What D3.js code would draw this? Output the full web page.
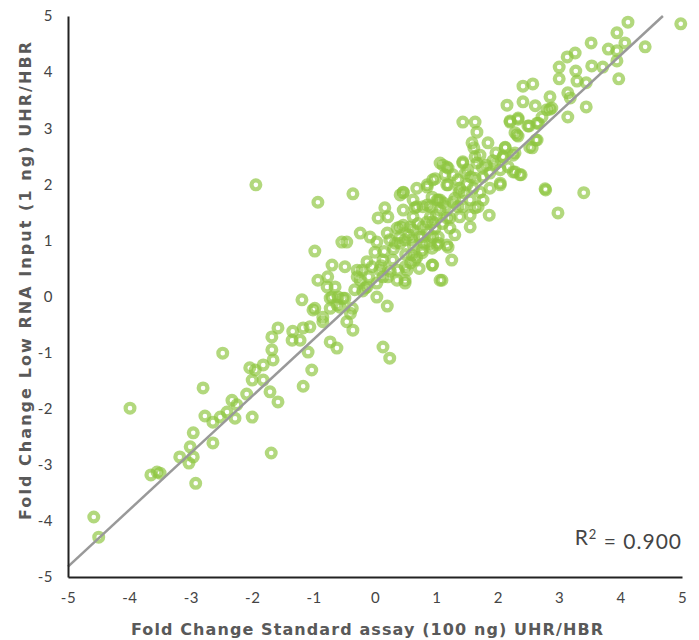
<!DOCTYPE html>
<html>
<head>
<meta charset="utf-8">
<script src="https://cdn.jsdelivr.net/npm/d3@7"></script>
<style>
  body { margin: 0; background: #fff; }
</style>
</head>
<body>
<script>
// fold change values, standard assay (x) vs low input (y)
const xVals = [
  -4.58,-4.50,-3.99,-3.65,-3.55,-3.50,-3.18,-2.96,-3.03,-2.92,-3.01,-2.96,-2.80,-2.64,-2.77,-2.64,-2.52,-2.33,-2.28,-2.41,
  -2.25,-2.09,-2.00,-2.00,-2.04,-1.95,-1.82,-1.82,-1.71,-1.58,-1.68,-1.66,-1.58,-1.68,-1.34,-1.35,-1.17,-1.06,-1.22,-1.17,
  -1.03,-1.09,-2.48,-1.69,-1.94,
  -0.85,-0.73,-0.62,-1.19,-1.01,-0.85,-0.73,-0.62,-0.46,-0.36,-0.93,-0.36,-0.98,-0.54,-0.46,-0.24,-0.08,-0.70,-0.49,-0.93,
  -0.77,-0.78,-0.65,-0.98,-0.57,-0.60,-0.49,-0.37,-0.24,-0.29,-0.13,0.00,0.03,0.16,0.21,0.05,0.41,0.46,0.20,0.36,
  0.24,0.41,0.13,0.29,0.49,0.13,0.36,0.03,-0.13,0.03,0.20,0.49,0.68,0.62,0.77,0.94,1.09,1.25,1.19,1.01,
  1.03,1.22,0.85,0.62,0.68,0.85,0.98,1.17,1.27,1.01,1.11,-0.29,-0.05,-0.21,-0.70,-0.33,0.08,0.13,0.24,-0.16,
  -0.52,-0.73,
  0.21,0.49,0.60,0.77,0.60,0.77,0.93,0.93,1.06,0.46,0.62,0.78,0.94,1.17,1.38,1.55,1.03,0.52,0.65,0.37,
  1.55,1.43,1.63,1.17,1.06,1.47,1.63,1.38,1.60,1.68,1.43,1.55,0.65,0.85,1.03,
  1.43,1.63,1.66,2.20,2.33,2.51,2.66,2.28,2.33,2.62,1.84,1.58,1.61,2.12,2.56,1.97,1.71,2.09,2.25,1.43,
  1.66,1.81,1.92,1.11,1.19,1.51,2.04,2.17,2.38,2.28,1.14,1.35,1.56,1.76,1.87,2.04,0.94,0.68,0.85,1.19,
  1.37,1.71,1.87,0.46,0.62,0.93,1.06,1.27,1.76,1.63,0.78,1.06,1.35,0.46,0.90,1.22,1.86,2.77,2.98,0.41,
  0.57,0.98,0.94,0.73,0.49,1.17,0.90,
  4.12,4.98,3.94,3.52,4.07,4.40,3.80,3.94,3.26,3.13,3.00,3.53,3.27,3.71,3.94,3.00,3.29,3.44,3.97,2.41,
  2.57,2.85,3.14,3.18,2.15,2.41,2.61,2.80,2.85,3.44,3.14,2.20,2.33,2.49,2.64,2.72,2.31,2.12,2.52,2.64,
  2.28,2.08,2.36,2.25,2.04,2.78,3.40,2.88,
  0.30,0.55,0.70,0.85,1.00,1.15,0.40,0.15,0.58,0.80,1.30,1.45,0.25,-0.10,0.50,1.10,1.30,0.90,0.33,0.72,
  1.50,1.75,1.95,-0.20,-0.40,0.10
];
const yVals = [
  -3.93,-4.29,-1.99,-3.18,-3.13,-3.15,-2.86,-2.86,-2.97,-3.33,-2.68,-2.43,-1.63,-2.61,-2.13,-2.24,-2.15,-1.85,-2.17,-2.06,
  -1.93,-1.74,-2.15,-1.49,-1.27,-1.31,-1.49,-1.22,-1.70,-1.88,-0.95,-1.13,-0.56,-0.72,-0.62,-0.78,-0.56,-0.54,-0.78,-1.60,
  -1.31,-0.99,-1.01,-2.79,1.99,
  -0.45,-0.81,-0.92,-0.06,-0.24,-0.37,-0.21,-0.15,-0.45,-0.60,1.68,1.83,0.81,0.97,0.97,1.13,1.06,0.56,0.53,0.29,
  0.35,0.17,0.17,-0.21,-0.19,-0.01,-0.03,-0.21,0.29,0.47,0.62,0.79,0.97,1.58,1.42,1.40,1.81,1.86,1.13,1.22,
  1.01,0.95,0.65,0.65,0.53,0.35,0.29,0.24,0.17,-0.01,-0.17,0.29,0.70,0.92,0.83,0.56,0.29,0.65,0.88,0.92,
  1.06,1.22,1.33,1.42,1.60,1.99,2.10,1.99,2.17,1.72,1.67,0.35,0.53,0.47,-0.01,0.12,0.47,-0.90,-1.10,0.15,
  -0.03,-0.03,
  0.35,0.24,1.01,1.06,0.74,0.78,0.86,0.56,0.29,1.27,1.19,1.24,1.33,1.40,1.42,1.45,0.95,0.47,0.65,0.47,
  1.72,2.40,2.49,2.31,2.38,2.20,2.11,1.93,1.93,1.60,1.60,1.24,1.58,1.63,1.72,
  3.11,3.11,2.93,3.11,3.16,3.04,3.09,2.92,2.86,2.79,2.74,2.74,2.65,2.65,2.65,2.56,2.52,2.49,2.52,2.38,
  2.38,2.34,2.42,2.34,2.29,2.26,2.26,2.31,2.17,2.22,2.17,2.08,2.13,2.13,2.20,1.99,2.08,1.93,1.95,1.99,
  1.86,1.86,1.93,1.85,1.72,1.77,1.72,1.68,1.72,1.58,1.60,1.54,1.60,1.54,1.42,1.40,1.45,1.92,1.49,1.24,
  1.24,1.22,1.06,1.06,1.01,0.92,0.94,
  4.89,4.86,4.70,4.52,4.52,4.45,4.41,4.38,4.34,4.27,4.09,4.11,4.02,4.09,4.20,3.88,3.84,3.81,3.88,3.75,
  3.79,3.56,3.63,3.54,3.41,3.47,3.40,3.33,3.34,3.38,3.20,3.13,3.18,3.04,3.09,3.20,2.88,2.66,2.66,2.79,
  2.56,2.49,2.17,2.22,2.02,1.90,1.85,3.36,
  0.85,1.10,1.30,1.15,1.45,1.60,1.05,0.80,0.60,0.95,1.75,1.85,0.45,0.35,0.75,1.30,1.10,1.60,0.95,0.50,
  2.00,2.30,2.35,0.10,-0.30,0.55
];
const axisTicks = [-5, -4, -3, -2, -1, 0, 1, 2, 3, 4, 5];
// linear fit shown on the chart
const fitSlope = 1.013, fitIntercept = 0.25;
const rSquared = "0.900";

const points = xVals.map((x, i) => ({ x: x, y: yVals[i] }));

const canvWidth = 699, canvHeight = 640;
const margin = { top: 16, right: 17, bottom: 63, left: 68 };
const width = canvWidth - margin.left - margin.right;
const height = canvHeight - margin.top - margin.bottom;

const svg = d3.select("body").append("svg")
    .attr("width", canvWidth)
    .attr("height", canvHeight);

const g = svg.append("g")
    .attr("transform", "translate(" + margin.left + "," + margin.top + ")");

const xScale = d3.scaleLinear().domain([-5, 5]).range([0, width]);
const yScale = d3.scaleLinear().domain([-5, 5]).range([height, 0]);

// points: hollow green rings
g.append("g")
    .selectAll("circle")
    .data(points)
    .enter()
    .append("circle")
    .attr("cx", d => xScale(d.x))
    .attr("cy", d => yScale(d.y))
    .attr("r", 4.4)
    .attr("fill", "none")
    .attr("stroke", "#8dc63f")
    .attr("stroke-opacity", 0.68)
    .attr("stroke-width", 4.2);

// trend line, stops where it leaves the top of the plot
const xEnd = (5 - fitIntercept) / fitSlope;
g.append("line")
    .attr("x1", xScale(-5))
    .attr("y1", yScale(fitIntercept + fitSlope * -5))
    .attr("x2", xScale(xEnd))
    .attr("y2", yScale(5))
    .attr("stroke", "#999")
    .attr("stroke-width", 2.5);

// axes (plain hyphen for negatives, like the original)
const fmt = d => String(d);
const xAxis = d3.axisBottom(xScale).tickValues(axisTicks).tickFormat(fmt).tickSize(0).tickPadding(15);
const yAxis = d3.axisLeft(yScale).tickValues(axisTicks).tickFormat(fmt).tickSize(0).tickPadding(15);

const xg = g.append("g")
    .attr("transform", "translate(0," + height + ")")
    .call(xAxis);
const yg = g.append("g").call(yAxis);

[xg, yg].forEach(a => {
    a.select(".domain").attr("stroke", "#222").attr("stroke-width", 2);
    a.selectAll("text")
        .attr("font-family", "Lato, 'Open Sans', sans-serif")
        .attr("font-size", "15px")
        .attr("letter-spacing", "0.5px")
        .attr("fill", "#444");
});

// R squared label
const rText = g.append("text")
    .attr("x", width)
    .attr("y", yScale(-4.43))
    .attr("text-anchor", "end")
    .attr("font-family", "Lato, 'Open Sans', sans-serif")
    .attr("font-size", "21px")
    .attr("letter-spacing", "1px")
    .attr("fill", "#444");
rText.append("tspan").text("R");
rText.append("tspan").attr("dy", "-0.5em").attr("font-size", "13px").text("2");
rText.append("tspan").attr("dy", "0.5em").text(" = " + rSquared);

// axis titles
svg.append("text")
    .attr("x", 367)
    .attr("y", 635)
    .attr("text-anchor", "middle")
    .attr("font-family", "'DejaVu Sans', sans-serif")
    .attr("font-weight", "bold")
    .attr("font-size", "16px")
    .attr("textLength", 472)
    .attr("lengthAdjust", "spacing")
    .attr("fill", "#595959")
    .text("Fold Change Standard assay (100 ng) UHR/HBR");

svg.append("text")
    .attr("transform", "rotate(-90)")
    .attr("x", -281)
    .attr("y", 31)
    .attr("text-anchor", "middle")
    .attr("font-family", "'DejaVu Sans', sans-serif")
    .attr("font-weight", "bold")
    .attr("font-size", "16px")
    .attr("textLength", 478)
    .attr("lengthAdjust", "spacing")
    .attr("fill", "#595959")
    .text("Fold Change Low RNA Input (1 ng) UHR/HBR");
</script>
</body>
</html>
